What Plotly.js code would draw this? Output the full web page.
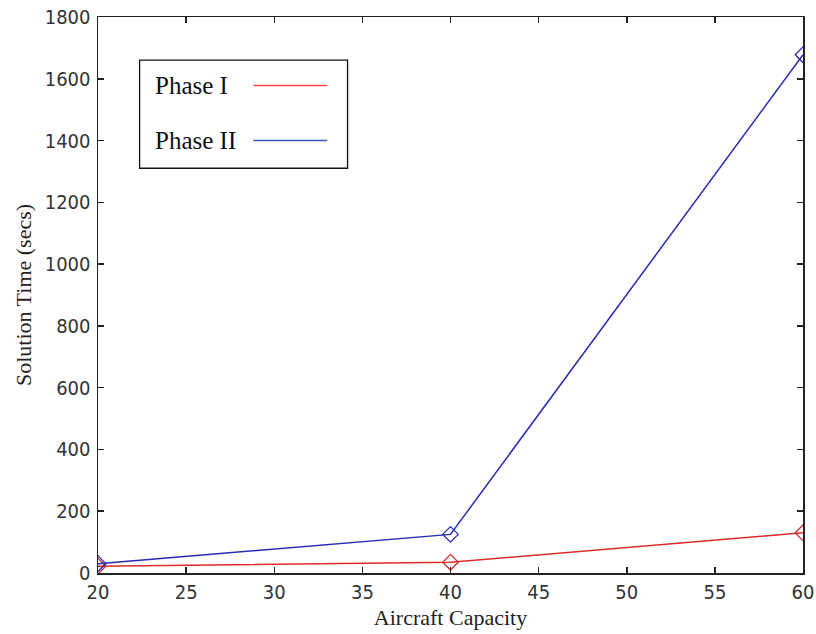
<!DOCTYPE html>
<html>
<head>
<meta charset="utf-8">
<script src="https://cdn.plot.ly/plotly-3.0.1.min.js"></script>
<style>html,body{margin:0;padding:0;background:#fff;}#chart{width:816px;height:634px;}</style>
</head>
<body>
<div id="chart"></div>
<script>
var capacity = [20, 40, 60];
var phase1 = [22, 35, 130];
var phase2 = [30, 125, 1678];
var seriesNames = ["Phase I", "Phase II"];
var seriesColors = ["#dd2a2a", "#2a2ab4"];
var legendLineColors = ["#ff4848", "#3a58c0"];

var tickFont = {family: "DejaVu Sans Condensed, Liberation Sans, Arial, sans-serif", size: 20, color: "#333"};
var titleFont = {family: "Liberation Serif, Times New Roman, serif", size: 22, color: "#222"};

function mk(y, i) {
  return {
    x: capacity, y: y, type: "scatter", mode: "lines+markers", name: seriesNames[i],
    showlegend: false,
    line: {color: seriesColors[i], width: 1.5},
    marker: {symbol: "diamond-open", size: 12, color: seriesColors[i], line: {width: 1.3, color: seriesColors[i]}}
  };
}
var data = [mk(phase1, 0), mk(phase2, 1)];

var legX0 = 0.059, legX1 = 0.354, legY0 = 0.728, legY1 = 0.9226;
var rowY = [0.877, 0.778];
var shapes = [{type: "rect", xref: "paper", yref: "paper", x0: legX0, x1: legX1, y0: legY0, y1: legY1,
  line: {color: "#111", width: 1.3}, fillcolor: "#fff", layer: "above"}];
var annotations = [];
for (var i = 0; i < seriesNames.length; i++) {
  shapes.push({type: "line", xref: "paper", yref: "paper", x0: 0.2204, x1: 0.3252, y0: rowY[i], y1: rowY[i],
    line: {color: legendLineColors[i], width: 1.5}, layer: "above"});
  annotations.push({xref: "paper", yref: "paper", x: 0.0786, y: rowY[i], xanchor: "left", yanchor: "middle",
    text: seriesNames[i], showarrow: false, font: {family: "Liberation Serif, Times New Roman, serif", size: 25, color: "#111"}});
}

var axisCommon = {
  showgrid: false, zeroline: false, showline: true, linecolor: "#222", linewidth: 1.5,
  mirror: "ticks", ticks: "inside", ticklen: 6, tickwidth: 1.5, tickcolor: "#222",
  tickfont: tickFont
};

var layout = {
  width: 816, height: 634,
  margin: {l: 97.7, r: 13.3, t: 17, b: 61.3},
  paper_bgcolor: "#fff", plot_bgcolor: "#fff",
  xaxis: Object.assign({}, axisCommon, {range: [20, 60], dtick: 5, tick0: 20,
    title: {text: "Aircraft Capacity", font: titleFont, standoff: 7}}),
  yaxis: Object.assign({}, axisCommon, {range: [0, 1800], dtick: 200, tick0: 0, ticklabelstandoff: 2,
    title: {text: "Solution Time (secs)", font: titleFont, standoff: 7}}),
  shapes: shapes,
  annotations: annotations
};

Plotly.newPlot("chart", data, layout, {displayModeBar: false, staticPlot: true});
</script>
</body>
</html>
